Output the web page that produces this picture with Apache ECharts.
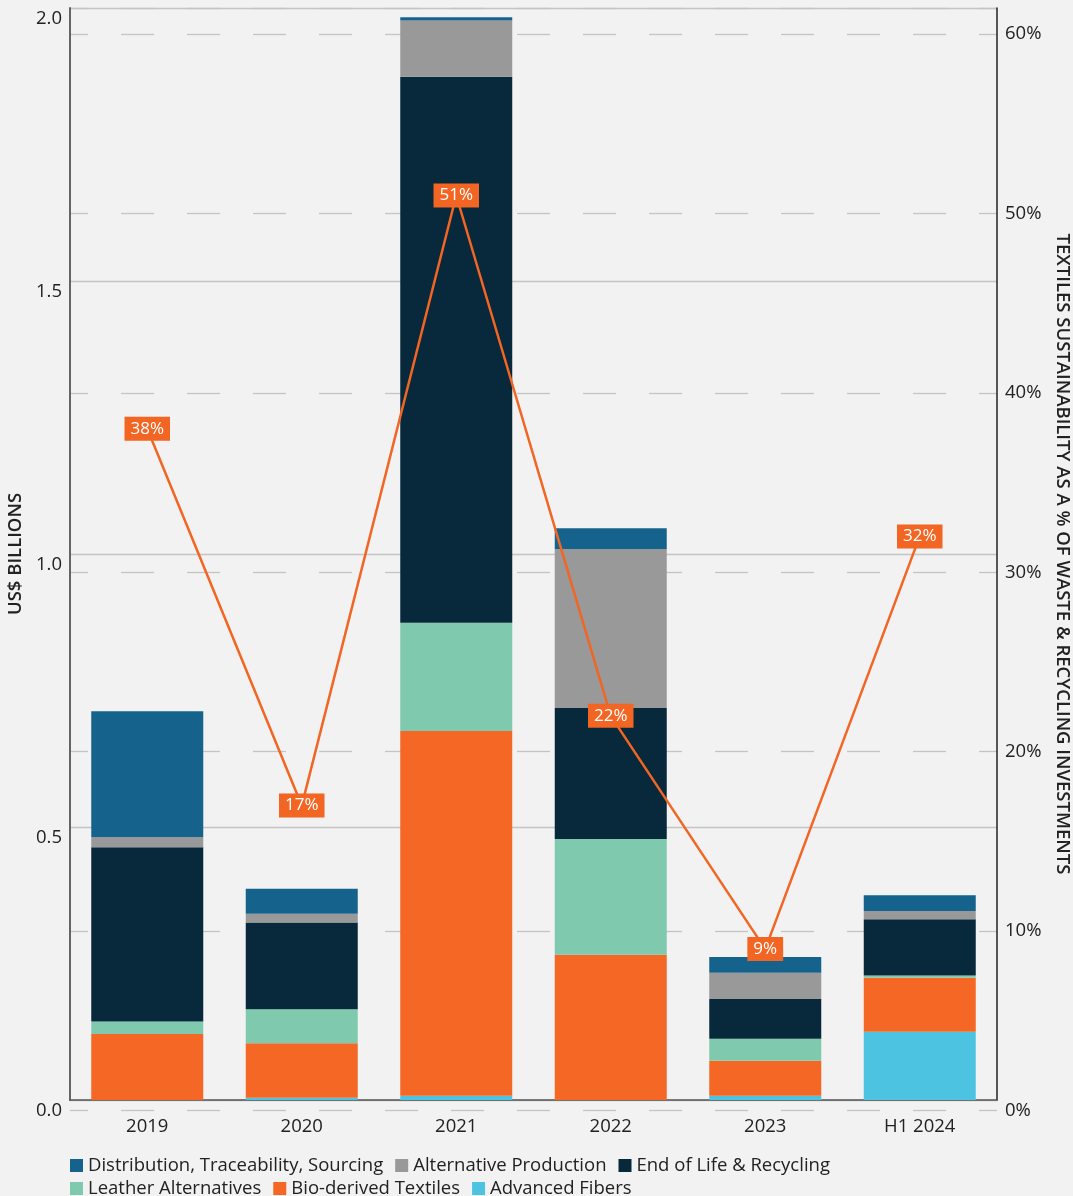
<!DOCTYPE html>
<html>
<head>
<meta charset="utf-8">
<script src="https://cdn.jsdelivr.net/npm/echarts@6/dist/echarts.min.js"></script>
<style>
  html, body { margin: 0; padding: 0; background: #f2f2f2; overflow: hidden; }
  #chart { width: 1073px; height: 1196px; }
</style>
</head>
<body>
<div id="chart"></div>
<script>
// Textiles sustainability investments by year (US$ billions) and share of waste & recycling
const categories = ['2019', '2020', '2021', '2022', '2023', 'H1 2024'];
const advancedFibers = [0.000, 0.004, 0.008, 0.000, 0.008, 0.125];
const bioDerived     = [0.121, 0.100, 0.668, 0.266, 0.064, 0.099];
const leatherAlt     = [0.023, 0.062, 0.198, 0.212, 0.040, 0.004];
const endOfLife      = [0.319, 0.159, 1.000, 0.240, 0.073, 0.103];
const altProduction  = [0.018, 0.016, 0.103, 0.291, 0.048, 0.015];
const distribution   = [0.231, 0.046, 0.006, 0.038, 0.029, 0.029];
const sharePct       = [38, 17, 51, 22, 9, 32];
const leftTicks = [0, 0.5, 1.0, 1.5, 2.0];

const FONT = '"Open Sans", "Noto Sans", sans-serif';
const TEXT = '#222222';
const ORANGE_LINE = '#f26522';

const chart = echarts.init(document.getElementById('chart'), null, { renderer: 'canvas' });

function barSeries(name, data, color) {
  return {
    name, type: 'bar', stack: 'total', data,
    xAxisIndex: 0, yAxisIndex: 0,
    barWidth: 112,
    itemStyle: { color },
    emphasis: { disabled: true },
    z: 2
  };
}

const legendText = { fontSize: 18.5, color: TEXT, fontFamily: FONT };

const option = {
  backgroundColor: '#f2f2f2',
  animation: false,
  textStyle: { fontFamily: FONT },
  grid: [
    { left: 70, right: 76, top: 8, height: 1092, outerBoundsMode: 'none', containLabel: false },
    { left: 70, right: 76, top: 8, height: 1102.6, outerBoundsMode: 'none', containLabel: false }
  ],
  legend: [
    {
      left: 70, top: 1156, padding: 0, itemWidth: 13, itemHeight: 13, itemGap: 12, icon: 'rect',
      textStyle: legendText,
      data: ['Distribution, Traceability, Sourcing', 'Alternative Production', 'End of Life & Recycling']
    },
    {
      left: 70, top: 1179, padding: 0, itemWidth: 13, itemHeight: 13, itemGap: 12, icon: 'rect',
      textStyle: legendText,
      data: ['Leather Alternatives', 'Bio-derived Textiles', 'Advanced Fibers']
    }
  ],
  xAxis: [
    {
      type: 'category', gridIndex: 0, data: categories,
      axisLine: { lineStyle: { color: '#555555', width: 1.5 } },
      axisTick: { show: false },
      axisLabel: { fontSize: 18.5, color: TEXT, margin: 17, fontFamily: FONT }
    },
    {
      type: 'category', gridIndex: 1, data: categories, show: false
    }
  ],
  yAxis: [
    {
      type: 'value', gridIndex: 0, min: 0, max: 2.0, interval: 0.5,
      name: 'US$ BILLIONS', nameLocation: 'middle', nameGap: 42, nameRotate: 90,
      nameTextStyle: { fontSize: 18.5, fontWeight: 600, color: TEXT, fontFamily: FONT },
      axisLine: { show: true, lineStyle: { color: '#555555', width: 1.8 } },
      axisTick: { show: false },
      axisLabel: {
        fontSize: 18.5, color: TEXT, margin: 8, fontFamily: FONT,
        verticalAlign: 'top', lineHeight: 14, padding: [4, 0, 0, 0],
        formatter: v => leftTicks.includes(v) ? v.toFixed(1) : ''
      },
      splitLine: { show: true, lineStyle: { color: '#c4c4c4', width: 1.3 } }
    },
    {
      type: 'value', gridIndex: 0, position: 'right', min: 0, max: 2.0,
      name: 'TEXTILES SUSTAINABILITY AS A % OF WASTE & RECYCLING INVESTMENTS',
      nameLocation: 'middle', nameGap: 56, nameRotate: -90,
      nameTextStyle: { fontSize: 18.5, fontWeight: 600, color: TEXT, fontFamily: FONT },
      axisLine: { show: true, lineStyle: { color: '#222222', width: 1.5 } },
      axisTick: { show: false },
      axisLabel: { show: false },
      splitLine: { show: false }
    },
    {
      type: 'value', gridIndex: 1, position: 'right', min: 0, max: 61.45, interval: 10,
      axisLine: { show: false },
      axisTick: { show: false },
      axisLabel: {
        fontSize: 18.5, color: TEXT, margin: 8, fontFamily: FONT,
        formatter: v => (v % 10 === 0 ? v + '%' : '')
      },
      splitLine: {
        show: true,
        lineStyle: { color: '#c4c4c4', width: 1.3, type: [33, 33], dashOffset: 15 }
      }
    }
  ],
  series: [
    barSeries('Advanced Fibers', advancedFibers, '#4bc3e1'),
    barSeries('Bio-derived Textiles', bioDerived, '#f46724'),
    barSeries('Leather Alternatives', leatherAlt, '#7fcaae'),
    barSeries('End of Life & Recycling', endOfLife, '#08293b'),
    barSeries('Alternative Production', altProduction, '#999999'),
    barSeries('Distribution, Traceability, Sourcing', distribution, '#15638c'),
    {
      name: 'Share', type: 'line', data: sharePct,
      xAxisIndex: 1, yAxisIndex: 2,
      symbol: 'circle', symbolSize: 1,
      lineStyle: { color: ORANGE_LINE, width: 2.5 },
      itemStyle: { color: ORANGE_LINE },
      label: {
        show: true, position: 'inside', formatter: '{c}%',
        color: '#ffffff', fontSize: 17, fontFamily: FONT,
        backgroundColor: ORANGE_LINE, padding: [4, 6, 3, 6]
      },
      emphasis: { disabled: true },
      z: 5
    }
  ]
};

chart.setOption(option);
</script>
</body>
</html>
